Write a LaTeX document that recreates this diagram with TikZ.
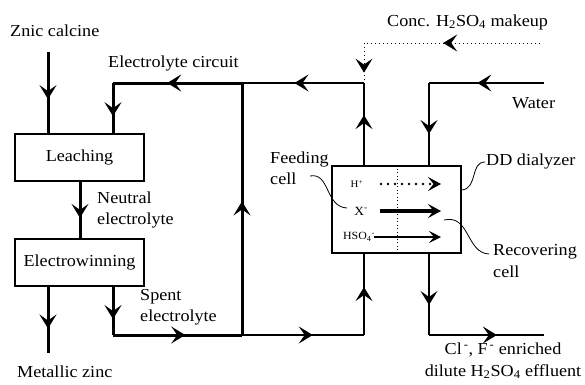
\documentclass[tikz,border=0pt]{standalone}
\usepackage{fontspec}
\setmainfont[FakeStretch=1.08]{Liberation Serif}
\usetikzlibrary{arrows.meta,decorations.markings}
\tikzset{
  >={Stealth[length=14pt,width=17pt,inset=6pt]},
  smallarr/.tip={Stealth[length=13pt,width=14pt,inset=5.5pt]},
  midarr/.style={postaction={decorate},decoration={markings,mark=at position #1 with {\arrow{>}}}},
  thickline/.style={line width=3pt},
  thinline/.style={line width=1.8pt},
  dotline/.style={line width=1pt,dash pattern=on 1pt off 3pt},
  procbox/.style={draw,line width=1.5pt,minimum width=129pt,minimum height=47pt,inner sep=0pt},
  lbl/.style={inner sep=0pt,align=left},
  leader/.style={line width=0.8pt},
}
\begin{document}
\begin{tikzpicture}[x=1pt,y=-1pt,font=\fontsize{16.8}{21.5}\selectfont]
\useasboundingbox (0,0) rectangle (585,384);

% boxes
\node[procbox] (leach) at (79.5,157.5) {Leaching};
\node[procbox] (elec) at (79.5,262.5) {Electrowinning};
\node[procbox,minimum height=87pt] (dd) at (396.5,209.5) {};

% texts
\node[lbl,anchor=west] (tcalc) at (10,31) {Znic calcine};
\node[lbl,anchor=west] (tcirc) at (108,63) {Electrolyte circuit};
\node[lbl,anchor=west] (tneut) at (97,210) {Neutral\\electrolyte};
\node[lbl,anchor=west] (tspent) at (140,307) {Spent\\electrolyte};
\node[lbl,anchor=west] (tmetal) at (17,372) {Metallic zinc};
\node[lbl,anchor=west] (tconc) at (387,22) {Conc. H\textsubscript{2}SO\textsubscript{4} makeup};
\node[lbl,anchor=west] (twater) at (512,103) {Water};
\node[lbl,anchor=west] (tfeed) at (270,168) {Feeding\\cell};
\node[lbl,anchor=west] (tdd) at (486,161) {DD dialyzer};
\node[lbl,anchor=west] (trec) at (493,261) {Recovering\\cell};
\node[lbl,align=center] (teff) at (503,361) {Cl\textsuperscript{\,-}, F\textsuperscript{\,-} enriched\\dilute H\textsubscript{2}SO\textsubscript{4} effluent};

% ions inside dialyzer
\node[lbl,font=\fontsize{10}{12}\selectfont] (ih) at (357,184) {H\textsuperscript{+}};
\node[lbl,font=\fontsize{12.5}{14}\selectfont] (ix) at (361,211) {X\textsuperscript{-}};
\node[lbl,font=\fontsize{11}{13}\selectfont] (ihso) at (359,237) {HSO\textsubscript{4}\textsuperscript{-}};
\coordinate (h1) at (381,184); \coordinate (h2) at (441,184);
\coordinate (x1) at (380,211); \coordinate (x2) at (441,211);
\coordinate (s1) at (374,237); \coordinate (s2) at (441,237);
\draw[line width=0.9pt,dash pattern=on 1pt off 2.5pt] (dd.north -| 397,0) -- (dd.south -| 397,0);
\draw[line width=2.8pt,line cap=round,dash pattern=on 0pt off 7pt,-{smallarr}] (h1) -- (h2);
\draw[line width=3.4pt,-{smallarr}] (x1) -- (x2);
\draw[line width=1.3pt,-{Stealth[length=12pt,width=12pt,inset=5pt]}] (s1) -- (s2);

% coordinates
\coordinate (calc) at (48,52);
\coordinate (ctl) at (113,83);
\coordinate (ctr) at (242,83);
\coordinate (cbl) at (113,335);
\coordinate (cbr) at (242,335);
\coordinate (mz) at (48,353);
\coordinate (ddl) at (364,335);
\coordinate (ddtl) at (364,83);
\coordinate (mk1) at (540,43);
\coordinate (mk2) at (364,43);
\coordinate (mk3) at (364,80);
\coordinate (w1) at (544,83);
\coordinate (w2) at (429,83);
\coordinate (e1) at (429,335);
\coordinate (e2) at (544,335);

% thick circuit
\draw[thickline,midarr=0.58] (calc) -- (calc |- leach.north);
\draw[thickline,midarr=0.64] (80,0 |- leach.south) -- (80,0 |- elec.north);
\draw[thickline,midarr=0.63] (mz |- elec.south) -- (mz);
\draw[thickline,midarr=0.67] (cbl |- elec.south) -- (cbl);
\draw[thickline,midarr=0.56] (cbl) -- (cbr);
\draw[thickline,midarr=0.53] (cbr) -- (ctr);
\draw[thickline,midarr=0.58] (ctr) -- (ctl);
\draw[thickline,midarr=0.66] (ctl) -- (ctl |- leach.north);
\draw[thickline,line cap=rect] (cbl) -- +(0,0);

% thin lines
\draw[thinline,midarr=0.58] (cbr) -- (ddl);
\draw[thinline,midarr=0.59] (ddl) -- (ddl |- dd.south);
\draw[thinline,midarr=0.61] (ddtl |- dd.north) -- (ddtl);
\draw[thinline,midarr=0.57] (ddtl) -- (ctr);
\draw[thinline,midarr=0.58] (w1) -- (w2);
\draw[thinline,midarr=0.62] (w2) -- (w2 |- dd.north);
\draw[thinline,midarr=0.63] (e1 |- dd.south) -- (e1);
\draw[thinline,midarr=0.59] (e1) -- (e2);

% dotted makeup
\draw[dotline,midarr=0.55] (mk1) -- (mk2);
\draw[dotline,midarr=0.8] (mk2) -- (mk3);

% leaders
\draw[leader] (310,176) .. controls (330,172) and (325,207) .. (347,208);
\draw[leader] (462,190) .. controls (478,188) and (470,162) .. (485,162);
\draw[leader] (444,220) .. controls (470,214) and (466,253) .. (489,254);
\end{tikzpicture}
\end{document}
